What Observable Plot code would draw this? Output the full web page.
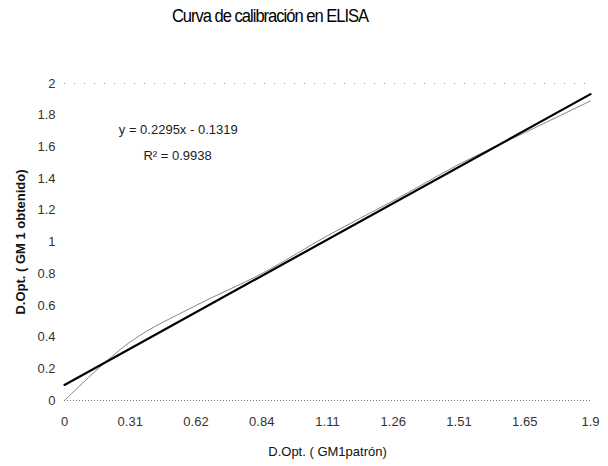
<!DOCTYPE html>
<html>
<head>
<meta charset="utf-8">
<script src="https://cdn.jsdelivr.net/npm/d3@7"></script>
<script src="https://cdn.jsdelivr.net/npm/@observablehq/plot@0.6"></script>
<style>
  html, body { margin: 0; padding: 0; background: #fff; }
  #wrap { position: relative; width: 608px; height: 466px; }
  #title { position: absolute; left: 0; top: 6px; width: 540px; text-align: center;
    font-family: "Liberation Sans", Arial, sans-serif;
    font-size: 18px; letter-spacing: -1.1px; color: #000; transform: scaleX(0.92); transform-origin: 270px 0; }
  #chart { position: absolute; left: 0; top: 36px; }
</style>
</head>
<body>
<div id="wrap">
  <div id="title"></div>
  <div id="chart"></div>
</div>
<script>
const title = "Curva de calibración en ELISA";
const xLabel = "D.Opt. ( GM1patrón)";
const yLabel = "D.Opt. ( GM 1 obtenido)";
const xTickLabels = ["0", "0.31", "0.62", "0.84", "1.11", "1.26", "1.51", "1.65", "1.9"];
const xIndex = [1, 2, 3, 4, 5, 6, 7, 8, 9];
const yObtained = [0, 0.37, 0.60, 0.80, 1.04, 1.26, 1.49, 1.69, 1.89];
const yTicks = [0, 0.2, 0.4, 0.6, 0.8, 1, 1.2, 1.4, 1.6, 1.8, 2];
const equationText = "y = 0.2295x - 0.1319";
const r2Text = "R² = 0.9938";

document.getElementById("title").textContent = title;

const data = xIndex.map((x, i) => ({x, y: yObtained[i]}));
const sans = "'Liberation Sans', Arial, sans-serif";

const plot = Plot.plot({
  width: 608,
  height: 430,
  marginLeft: 64,
  marginRight: 18,
  marginTop: 47,
  marginBottom: 66,
  style: { fontFamily: sans, fontSize: "13px", color: "#333", background: "#fff" },
  x: { type: "linear", domain: [1, 9], ticks: xIndex, tickFormat: i => xTickLabels[i - 1], tickSize: 0, tickPadding: 16, label: null },
  y: { domain: [0, 2], ticks: yTicks, tickFormat: d => String(d), tickSize: 0, tickPadding: 9, label: null },
  marks: [
    Plot.ruleY([0], { stroke: "#777", strokeDasharray: "1,2", strokeWidth: 1 }),
    Plot.ruleY([2], { stroke: "#999", strokeDasharray: "1,9", strokeWidth: 1 }),
    Plot.line(data, { x: "x", y: "y", stroke: "#777", strokeWidth: 0.9, curve: "catmull-rom" }),
    Plot.linearRegressionY(data, { x: "x", y: "y", stroke: "#000", strokeWidth: 2.2, ci: 0 }),
    Plot.text([equationText], { x: () => 2.73, y: () => 1.71, text: d => d, fontSize: 13, fill: "#222", letterSpacing: "-0.9px" }),
    Plot.text([r2Text], { x: () => 2.72, y: () => 1.545, text: d => d, fontSize: 13, fill: "#222", letterSpacing: "-0.9px" }),
    Plot.text([yLabel], { frameAnchor: "left", dx: -44, rotate: -90, textAnchor: "middle", text: d => d, fontWeight: "bold", fontSize: 13, fill: "#111" }),
    Plot.text([xLabel], { frameAnchor: "bottom", dy: 55, textAnchor: "middle", text: d => d, fontSize: 13, fill: "#111", letterSpacing: "-1px" })
  ]
});
document.getElementById("chart").appendChild(plot);
</script>
</body>
</html>
